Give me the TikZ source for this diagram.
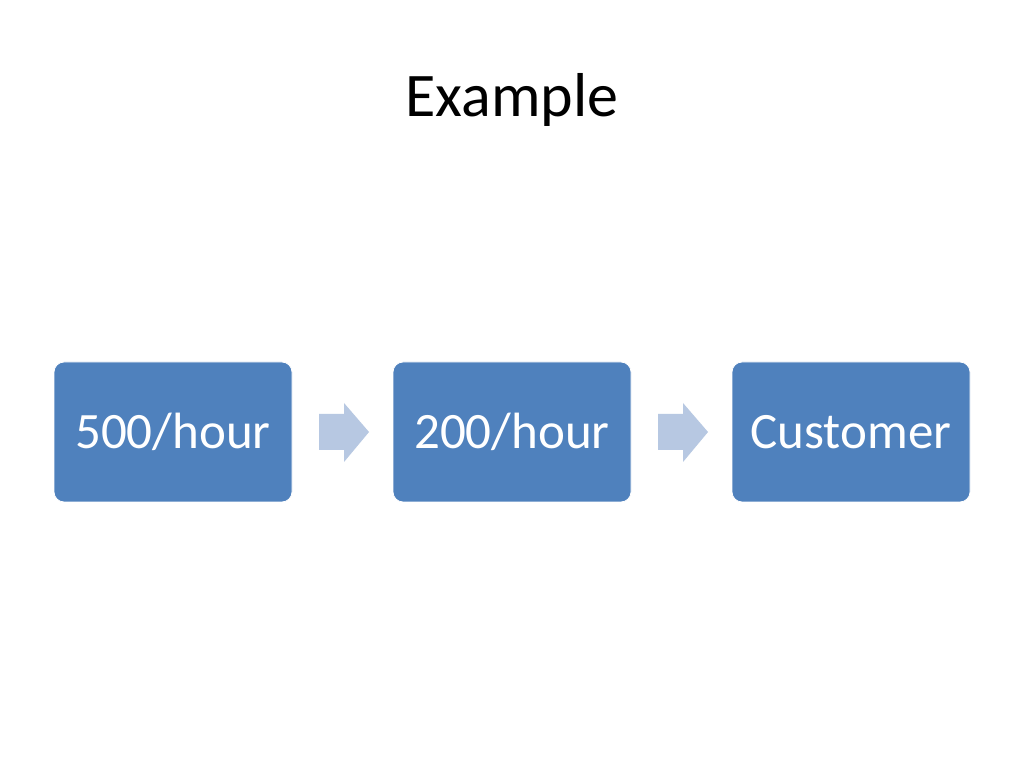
\documentclass[tikz,border=0pt]{standalone}
\usepackage{fontspec}
\setmainfont{Carlito}
\definecolor{boxblue}{RGB}{79,129,189}
\definecolor{arrowblue}{RGB}{183,200,226}
\begin{document}
\begin{tikzpicture}[x=1pt,y=1pt,
  flowbox/.style={fill=boxblue,draw=white,line width=0.8pt,rounded corners=10pt,minimum width=238pt,minimum height=140pt,inner sep=0pt,text=white,font=\fontsize{51}{60}\selectfont},
  flowarrow/.style={fill=arrowblue,draw=none}]
\useasboundingbox[fill=white] (0,0) rectangle (1024,768);
\node[font=\fontsize{62}{72}\selectfont,anchor=base] (title) at (512,651) {Example};
\node[flowbox] (a) at (173,336) {500/hour};
\node[flowbox] (b) at (512,336) {200/hour};
\node[flowbox] (c) at (851,336) {Customer};
\foreach \x in {319,658}{
  \fill[flowarrow] (\x,318) -- (\x+25,318) -- (\x+25,306) -- (\x+50,336) -- (\x+25,365) -- (\x+25,354) -- (\x,354) -- cycle;
}
\end{tikzpicture}
\end{document}
